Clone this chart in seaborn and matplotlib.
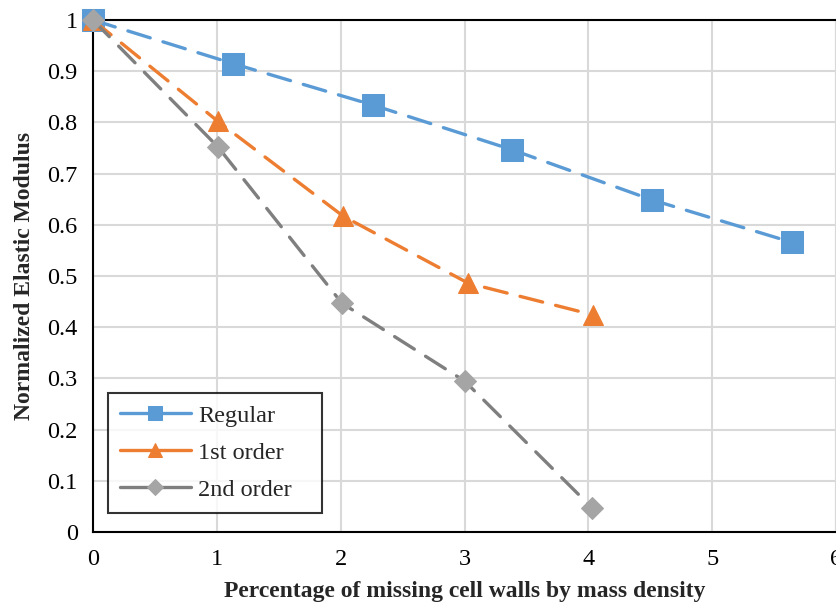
import matplotlib
matplotlib.use("Agg")
import matplotlib.pyplot as plt
import seaborn as sns
import pandas as pd

series_names = ["Regular", "1st order", "2nd order"]
x_regular = [0, 1.13, 2.26, 3.38, 4.51, 5.64]
y_regular = [1.0, 0.915, 0.834, 0.747, 0.649, 0.566]
x_first = [0, 1.01, 2.02, 3.03, 4.04]
y_first = [1.0, 0.802, 0.617, 0.486, 0.424]
x_second = [0, 1.01, 2.01, 3.0, 4.03]
y_second = [1.0, 0.752, 0.447, 0.295, 0.047]

x_ticks = [0, 1, 2, 3, 4, 5, 6]
y_ticks = [0, 0.1, 0.2, 0.3, 0.4, 0.5, 0.6, 0.7, 0.8, 0.9, 1]
y_tick_labels = ["0", "0.1", "0.2", "0.3", "0.4", "0.5", "0.6", "0.7", "0.8", "0.9", "1"]

sns.set_style("white")
plt.rcParams["font.family"] = ["Liberation Serif", "DejaVu Serif"]

fig = plt.figure(figsize=(8.37, 6.09), dpi=100)
ax = fig.add_axes([0.111, 0.1264, 0.888, 0.8407])

styles = [
    dict(color="#5B9BD5", marker="s", markersize=16, mfc="#5B9BD5", mec="#5B9BD5", lm=10),
    dict(color="#ED7D31", marker="^", markersize=15, mfc="#ED7D31", mec="#ED7D31", lm=10),
    dict(color="#7F7F7F", marker="D", markersize=11, mfc="#A5A5A5", mec="#A5A5A5", lm=8),
]
data = [(x_regular, y_regular), (x_first, y_first), (x_second, y_second)]

for name, (xs, ys), st in zip(series_names, data, styles):
    df = pd.DataFrame({"x": xs, "y": ys})
    sns.lineplot(data=df, x="x", y="y", ax=ax, sort=False, label=name,
                 color=st["color"], marker=st["marker"], markersize=st["markersize"],
                 markerfacecolor=st["mfc"], markeredgecolor=st["mec"],
                 linewidth=2.4, linestyle=(0, (7, 4)), dash_capstyle="round",
                 zorder=3, clip_on=False)

ax.set_xlim(0, 6)
ax.set_ylim(0, 1)
ax.set_xticks(x_ticks)
ax.set_yticks(y_ticks)
ax.set_yticklabels(y_tick_labels)
ax.grid(True, color="#D9D9D9", linewidth=1.5, zorder=0)
ax.set_axisbelow(True)

for side in ["left", "bottom", "top"]:
    ax.spines[side].set_color("black")
    ax.spines[side].set_linewidth(1.5)
ax.spines["right"].set_color("#D9D9D9")
ax.spines["right"].set_linewidth(1.5)

ax.tick_params(axis="both", which="major", direction="inout", length=10, width=1.5,
               labelsize=17.5, colors="black", pad=6)
ax.tick_params(axis="x", top=False, pad=7)
ax.tick_params(axis="y", right=False)

ax.set_xlabel("Percentage of missing cell walls by mass density", fontsize=17,
              fontweight="bold", labelpad=8)
ax.set_ylabel("Normalized Elastic Modulus", fontsize=17, fontweight="bold", labelpad=9)

leg = ax.legend(loc="lower left", bbox_to_anchor=(0.0202, 0.037, 0.288, 0.3),
                mode="expand", fontsize=17.5,
                frameon=True, fancybox=False, edgecolor="black", handlelength=2.9,
                borderpad=0.5, labelspacing=0.62, handletextpad=0.3, borderaxespad=0)
leg.get_frame().set_linewidth(1.5)
for h, st in zip(leg.get_lines(), styles):
    h.set_linestyle("-")
    h.set_markersize(st["lm"])

fig.savefig("out.png", dpi=100)
